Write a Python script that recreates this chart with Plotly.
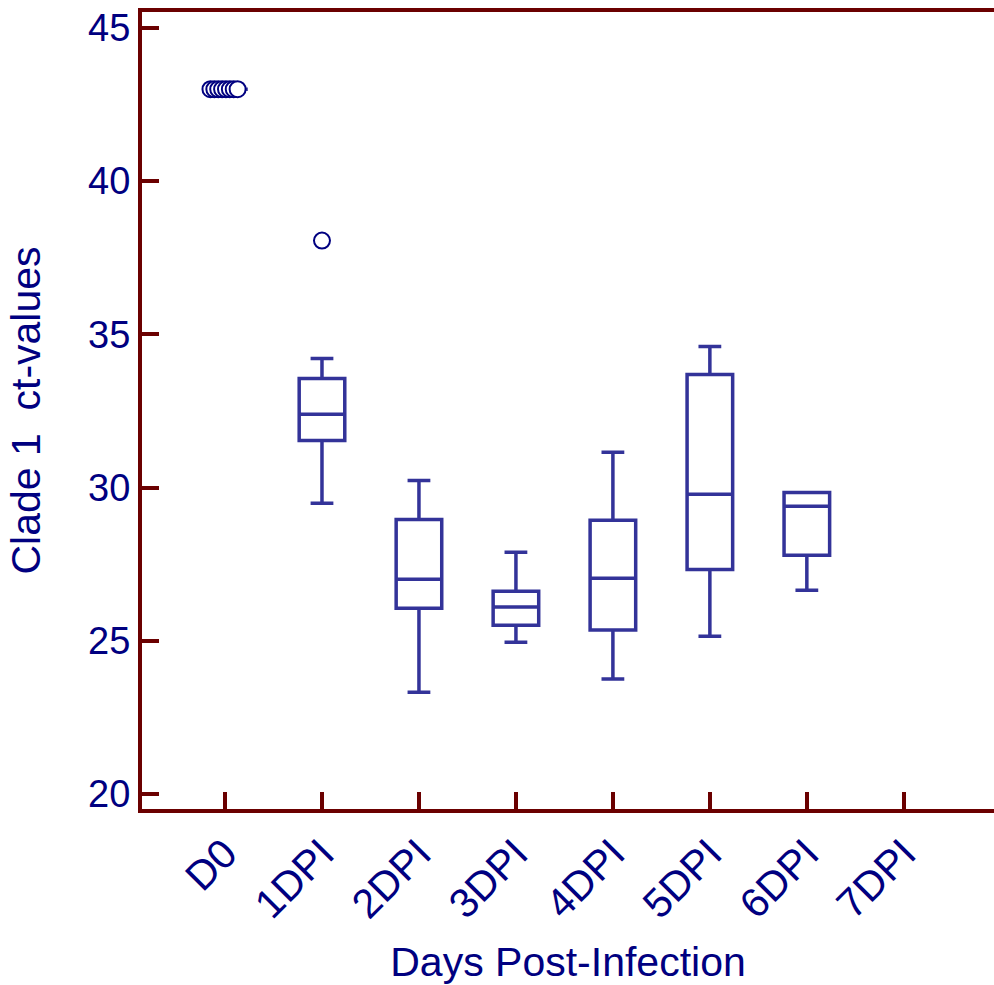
import plotly.graph_objects as go

# Days post-infection categories and their box summaries (ct values)
days = ["D0", "1DPI", "2DPI", "3DPI", "4DPI", "5DPI", "6DPI", "7DPI"]
box_days = ["D0", "1DPI", "2DPI", "3DPI", "4DPI", "5DPI", "6DPI"]
lower_fence = [43.0, 29.49, 23.32, 24.95, 23.75, 25.15, 26.65]
q1_vals = [43.0, 31.54, 26.06, 25.51, 25.35, 27.33, 27.79]
median_vals = [43.0, 32.39, 27.01, 26.10, 27.04, 29.78, 29.39]
q3_vals = [43.0, 33.56, 28.96, 26.62, 28.93, 33.69, 29.84]
upper_fence = [43.0, 34.21, 30.23, 27.89, 31.15, 34.60, 29.84]

# Individual outlying samples
d0_outliers = [43.0, 43.0, 43.0, 43.0, 43.0, 43.0, 43.0, 43.0]
dpi1_outliers = [38.06]

y_ticks = [20, 25, 30, 35, 40, 45]

AXIS_COLOR = "#6B0000"
TEXT_COLOR = "#000080"
BOX_COLOR = "#333399"
FONT = "Liberation Sans, Arial, sans-serif"

pos = {d: i for i, d in enumerate(days)}

fig = go.Figure()

fig.add_trace(go.Box(
    x=[pos[d] for d in box_days],
    q1=q1_vals,
    median=median_vals,
    q3=q3_vals,
    lowerfence=lower_fence,
    upperfence=upper_fence,
    width=0.47,
    whiskerwidth=0.5,
    boxpoints=False,
    line=dict(color=BOX_COLOR, width=3.5),
    fillcolor="rgba(0,0,0,0)",
    showlegend=False,
    hoverinfo="skip",
))

# D0 samples share one value, so they are fanned out slightly along x
n0 = len(d0_outliers)
spread = 0.04
d0_x = [pos["D0"] - spread * (n0 - 1) / 2 - 0.01 + spread * k for k in range(n0)]
marker_style = dict(symbol="circle", size=16, color="white",
                    line=dict(color=TEXT_COLOR, width=2))
fig.add_trace(go.Scatter(
    x=d0_x,
    y=d0_outliers,
    mode="markers",
    marker=marker_style,
    showlegend=False,
    hoverinfo="skip",
))

fig.add_trace(go.Scatter(
    x=[pos["1DPI"]] * len(dpi1_outliers),
    y=dpi1_outliers,
    mode="markers",
    marker=marker_style,
    showlegend=False,
    hoverinfo="skip",
))

fig.update_layout(
    width=994,
    height=985,
    margin=dict(l=142, r=0, t=12, b=176),
    paper_bgcolor="white",
    plot_bgcolor="white",
    font=dict(family=FONT, color=TEXT_COLOR, size=38),
    xaxis=dict(
        range=[-0.856, 7.93],
        tickvals=list(range(len(days))),
        ticktext=days,
        tickangle=-45,
        ticks="inside",
        ticklen=17,
        tickwidth=4,
        tickcolor=AXIS_COLOR,
        showline=True,
        linecolor=AXIS_COLOR,
        linewidth=4,
        mirror=True,
        showgrid=False,
        zeroline=False,
        tickfont=dict(size=41, color=TEXT_COLOR),
        title=dict(text="Days Post-Infection", font=dict(size=41, color=TEXT_COLOR), standoff=24),
    ),
    yaxis=dict(
        range=[19.51, 45.52],
        tickvals=y_ticks,
        ticks="inside",
        ticklen=17,
        tickwidth=4,
        tickcolor=AXIS_COLOR,
        showline=True,
        linecolor=AXIS_COLOR,
        linewidth=4,
        mirror=False,
        showgrid=False,
        zeroline=False,
        tickfont=dict(size=38, color=TEXT_COLOR),
        title=dict(text="Clade 1  ct-values", font=dict(size=41, color=TEXT_COLOR), standoff=36),
    ),
)

fig.write_html("out.html")
